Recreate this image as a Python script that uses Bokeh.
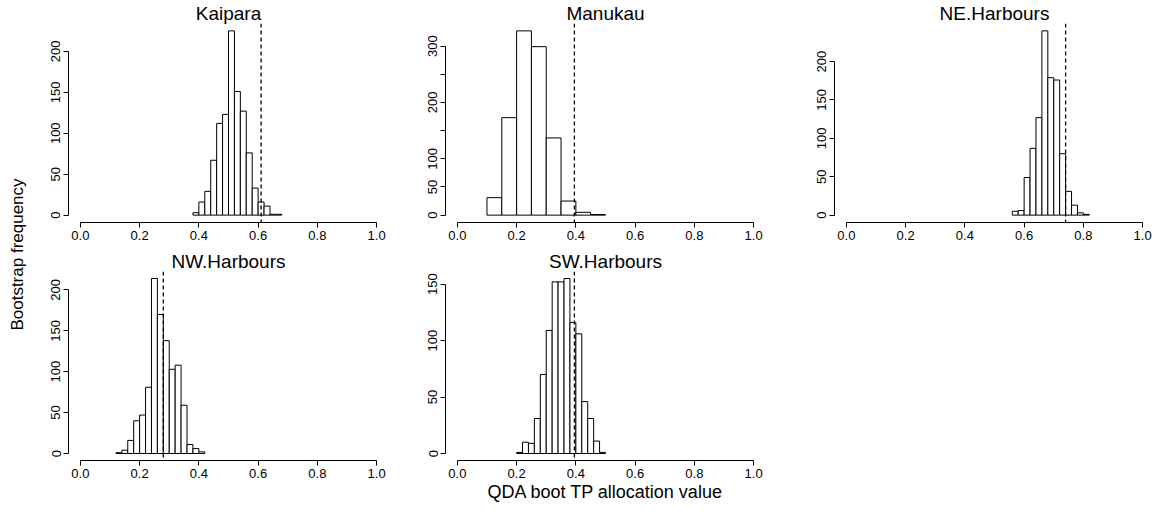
import numpy as np
from bokeh.plotting import figure
from bokeh.layouts import gridplot, row
from bokeh.models import Span, FixedTicker, ColumnDataSource
from bokeh.core.properties import value
from bokeh.embed import file_html
from bokeh.resources import INLINE

FONT = "Liberation Sans"

sites = ["Kaipara", "Manukau", "NE.Harbours", "NW.Harbours", "SW.Harbours"]
bin_start = [0.38, 0.10, 0.56, 0.12, 0.20]
bin_width = [0.02, 0.05, 0.02, 0.02, 0.02]
counts = [
    [3, 16, 29, 67, 112, 123, 225, 151, 127, 76, 33, 16, 11, 1, 1],
    [31, 173, 327, 299, 137, 25, 5, 1],
    [5, 6, 49, 87, 127, 240, 179, 176, 80, 31, 13, 3, 1],
    [1, 4, 16, 40, 47, 81, 214, 170, 138, 103, 108, 59, 11, 6, 2],
    [1, 10, 9, 31, 70, 109, 152, 152, 155, 116, 106, 46, 31, 11, 1],
]
observed = [0.61, 0.395, 0.74, 0.28, 0.395]
y_top_tick = [200, 300, 200, 200, 150]
hidden_y_labels = [[], [150, 250], [], [], []]

x_ticks = [0.0, 0.2, 0.4, 0.6, 0.8, 1.0]


def panel(i, left, right, top, bottom, xlabel=None):
    c = np.array(counts[i])
    lo = bin_start[i] + bin_width[i] * np.arange(len(c))
    ymax = c.max()
    p = figure(width=left + 320 + right, height=top + 200 + bottom,
               x_range=(-0.04, 1.04), y_range=(-0.04 * ymax, 1.04 * ymax),
               output_backend="svg", toolbar_location=None,
               min_border_left=left, min_border_right=right,
               min_border_top=top, min_border_bottom=bottom,
               title=sites[i])
    p.title.align = "center"
    p.title.text_font = FONT
    p.title.text_font_size = "19px"
    p.title.text_font_style = "normal"
    p.title.text_color = "black"
    p.title.standoff = 0
    p.outline_line_color = None
    p.grid.visible = False
    src = ColumnDataSource(dict(left=lo, right=lo + bin_width[i], top=c))
    p.quad(left="left", right="right", bottom=0, top="top", source=src,
           fill_color="white", line_color="black", line_width=1)
    p.add_layout(Span(location=observed[i], dimension="height",
                      line_color="black", line_dash="4 3", line_width=1.3))
    p.xaxis.ticker = FixedTicker(ticks=x_ticks)
    p.xaxis.major_label_overrides = {t: f"{t:.1f}" for t in x_ticks}
    p.xaxis.bounds = (0, 1)
    yt = list(range(0, y_top_tick[i] + 1, 50))
    p.yaxis.ticker = FixedTicker(ticks=yt)
    p.yaxis.major_label_overrides = {t: ("" if t in hidden_y_labels[i] else str(t)) for t in yt}
    p.yaxis.bounds = (0, y_top_tick[i])
    p.yaxis.major_label_orientation = "vertical"
    for ax in (p.xaxis, p.yaxis):
        ax.minor_tick_line_color = None
        ax.major_tick_out = 5
        ax.major_tick_in = 0
        ax.major_tick_line_color = "black"
        ax.major_label_text_font = FONT
        ax.major_label_text_font_size = "13px"
        ax.major_label_text_color = "black"
        ax.major_label_standoff = 3
        ax.axis_line_color = "black"
    if xlabel:
        p.xaxis.axis_label = xlabel
        p.xaxis.axis_label_text_font = FONT
        p.xaxis.axis_label_text_font_size = "18px"
        p.xaxis.axis_label_text_font_style = "normal"
        p.xaxis.axis_label_text_color = "black"
        p.xaxis.axis_label_standoff = 1
    return p


p1 = panel(0, 38, 5, 22, 26)
p2 = panel(1, 52, 17, 22, 26)
p3 = panel(2, 52, 5, 22, 26)
p4 = panel(3, 38, 5, 22, 34)
p5 = panel(4, 52, 17, 22, 34, xlabel="QDA boot TP allocation value")

lab = figure(width=30, height=504, x_range=(0, 1), y_range=(0, 504),
             output_backend="svg", toolbar_location=None,
             min_border=0)
lab.axis.visible = False
lab.grid.visible = False
lab.outline_line_color = None
lab.text(x=[0.55], y=[250], text=["Bootstrap frequency"], angle=np.pi / 2,
         text_align="center", text_baseline="middle",
         text_font=value(FONT), text_font_size="17px", text_color="black")

grid = gridplot([[p1, p2, p3], [p4, p5, None]], toolbar_location=None)
p = row(lab, grid)

open("out.html", "w").write(file_html(p, INLINE))
